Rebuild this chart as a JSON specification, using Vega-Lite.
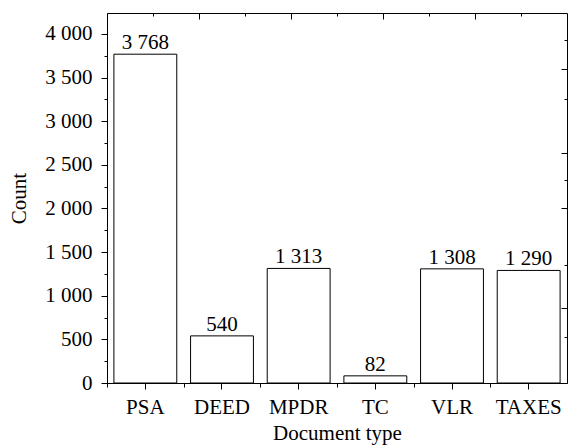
{
  "$schema": "https://vega.github.io/schema/vega-lite/v6.json",
  "width": 460,
  "height": 370,
  "autosize": {"type": "none"},
  "padding": {"left": 107, "top": 13, "right": 4, "bottom": 62},
  "config": {
    "locale": {"number": {"decimal": ".", "thousands": " ", "grouping": [3], "currency": ["", ""]}},
    "font": "Liberation Serif, Times New Roman, Times, serif",
    "view": {"stroke": "#000", "strokeWidth": 1},
    "axis": {
      "labelFont": "Liberation Serif, Times New Roman, Times, serif",
      "titleFont": "Liberation Serif, Times New Roman, Times, serif",
      "labelFontSize": 21,
      "titleFontSize": 21,
      "titleFontWeight": "normal",
      "labelColor": "#000",
      "titleColor": "#000",
      "domainColor": "#000",
      "tickColor": "#000",
      "grid": false
    }
  },
  "data": {
    "values": [
      {"type": "PSA", "count": 3768},
      {"type": "DEED", "count": 540},
      {"type": "MPDR", "count": 1313},
      {"type": "TC", "count": 82},
      {"type": "VLR", "count": 1308},
      {"type": "TAXES", "count": 1290}
    ]
  },
  "resolve": {
    "scale": {"x": "independent", "y": "independent"},
    "axis": {"x": "independent", "y": "independent"}
  },
  "layer": [
    {
      "mark": {"type": "bar", "fill": "white", "stroke": "#000", "strokeWidth": 1},
      "encoding": {
        "x": {
          "field": "type", "type": "nominal", "sort": null,
          "scale": {"paddingInner": 0.18, "paddingOuter": 0.09},
          "axis": {"orient": "bottom", "title": "Document type", "labelAngle": 0, "tickSize": 6, "labelPadding": 7, "titlePadding": 5}
        },
        "y": {
          "field": "count", "type": "quantitative",
          "scale": {"domain": [0, 4240], "nice": false},
          "axis": {
            "orient": "left",
            "title": "Count",
            "values": [0, 250, 500, 750, 1000, 1250, 1500, 1750, 2000, 2250, 2500, 2750, 3000, 3250, 3500, 3750, 4000],
            "labelExpr": "datum.value % 500 === 0 ? replace(format(datum.value, ','), ',', ' ') : ''",
            "tickSize": {"condition": {"test": "datum.value % 500 === 0", "value": 6}, "value": 3},
            "labelPadding": 9,
            "titlePadding": 15
          }
        }
      }
    },
    {
      "mark": {"type": "text", "baseline": "alphabetic", "dy": -5, "fontSize": 21, "font": "Liberation Serif, Times New Roman, Times, serif", "color": "#000"},
      "encoding": {
        "x": {"field": "type", "type": "nominal", "sort": null, "scale": {"paddingInner": 0.18, "paddingOuter": 0.09}, "axis": null},
        "y": {"field": "count", "type": "quantitative", "scale": {"domain": [0, 4240], "nice": false}, "axis": null},
        "text": {"field": "count", "type": "quantitative", "format": ","}
      }
    },
    {
      "mark": {"type": "tick", "opacity": 0},
      "encoding": {
        "x": {
          "field": "type", "type": "nominal", "sort": null,
          "scale": {"paddingInner": 0.18, "paddingOuter": 0.09},
          "axis": {"orient": "bottom", "bandPosition": 0, "tickOffset": -6.9, "labels": false, "domain": false, "title": null, "tickSize": 4}
        },
        "y": {"field": "count", "type": "quantitative", "scale": {"domain": [0, 4240], "nice": false}, "axis": null}
      }
    },
    {
      "mark": {"type": "point", "opacity": 0},
      "encoding": {
        "x": {
          "datum": 0, "type": "quantitative",
          "scale": {"domain": [0, 5], "nice": false},
          "axis": {"orient": "top", "values": [1, 2, 3, 4], "tickSize": -6, "labels": false, "domain": false, "title": null}
        },
        "y": {"field": "count", "type": "quantitative", "scale": {"domain": [0, 4240], "nice": false}, "axis": null}
      }
    },
    {
      "mark": {"type": "point", "opacity": 0},
      "encoding": {
        "x": {
          "datum": 0, "type": "quantitative",
          "scale": {"domain": [0, 5], "nice": false},
          "axis": {"orient": "top", "values": [0.5, 1.5, 2.5, 3.5, 4.5], "tickSize": -3, "labels": false, "domain": false, "title": null}
        },
        "y": {"field": "count", "type": "quantitative", "scale": {"domain": [0, 4240], "nice": false}, "axis": null}
      }
    },
    {
      "mark": {"type": "point", "opacity": 0},
      "encoding": {
        "x": {"field": "type", "type": "nominal", "sort": null, "scale": {"paddingInner": 0.18, "paddingOuter": 0.09}, "axis": null},
        "y": {
          "datum": 0, "type": "quantitative",
          "scale": {"domain": [0, 370], "nice": false},
          "axis": {"orient": "right", "values": [75, 175, 230, 314], "tickSize": -6, "labels": false, "domain": false, "title": null}
        }
      }
    },
    {
      "mark": {"type": "point", "opacity": 0},
      "encoding": {
        "x": {"field": "type", "type": "nominal", "sort": null, "scale": {"paddingInner": 0.18, "paddingOuter": 0.09}, "axis": null},
        "y": {
          "datum": 0, "type": "quantitative",
          "scale": {"domain": [0, 370], "nice": false},
          "axis": {"orient": "right", "values": [46, 118, 203, 284, 343], "tickSize": -3, "labels": false, "domain": false, "title": null}
        }
      }
    }
  ]
}
